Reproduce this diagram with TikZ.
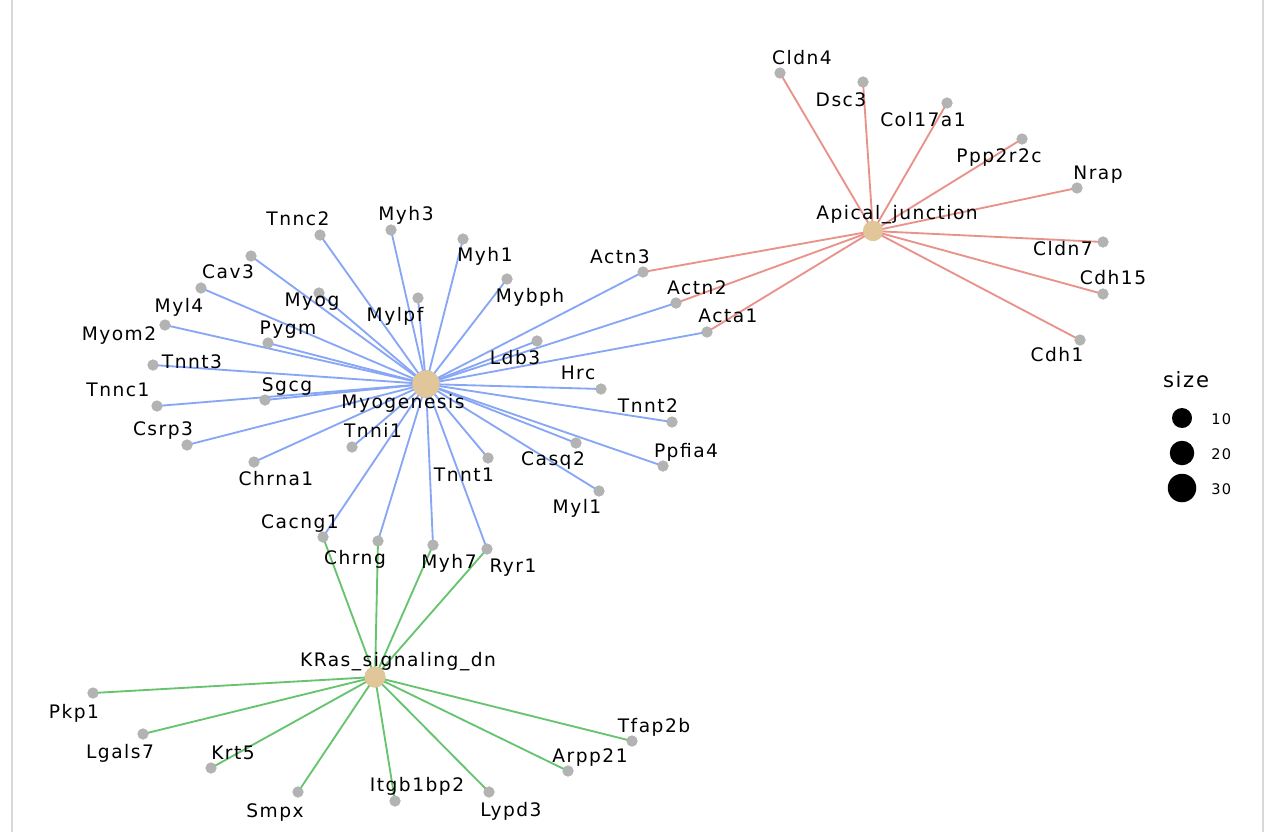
\documentclass[tikz,border=0pt]{standalone}
\usepackage{fontspec}
\setmainfont{DejaVu Sans}[LetterSpace=8]
\definecolor{genegray}{RGB}{179,179,179}
\definecolor{hubcol}{RGB}{224,198,153}
\definecolor{blueedge}{RGB}{135,166,245}
\definecolor{rededge}{RGB}{232,146,137}
\definecolor{greenedge}{RGB}{102,196,110}
\definecolor{framegray}{RGB}{217,217,217}
\tikzset{
  gene/.style={circle,fill=genegray,draw=none,minimum size=0.22cm,inner sep=0pt},
  hub/.style={circle,fill=hubcol,draw=none,inner sep=0pt},
  lbl/.style={inner sep=0pt,text height=0.73em,text depth=0pt,anchor=center,font=\fontsize{10.6}{12}\selectfont},
  eb/.style={draw=blueedge,line width=1.05pt},
  er/.style={draw=rededge,line width=1.05pt},
  eg/.style={draw=greenedge,line width=1.05pt},
  legdot/.style={circle,fill=black,draw=none,inner sep=0pt},
}
\begin{document}
\begin{tikzpicture}[x=0.02cm,y=-0.02cm]
\useasboundingbox (0,0) rectangle (1274,832);
\fill[white] (0,0) rectangle (1274,832);
\draw[framegray,line width=1.2pt] (12,0) -- (12,832);
\draw[framegray,line width=1.2pt] (1263,0) -- (1263,832);

% hubs
\node[hub,minimum size=0.55cm] (Myo) at (426,384) {};
\node[hub,minimum size=0.40cm] (Api) at (873,231) {};
\node[hub,minimum size=0.42cm] (KRas) at (375,677) {};

% genes
\foreach \n/\x/\y in {Tnnc2/320/235,Myh3/391/230,Myh1/463/239,Mybph/507/279,Cav3/251/256,Myl4/201/288,Myom2/165/325,Tnnt3/153/365,Tnnc1/157/406,Csrp3/187/445,Myog/319/293,Pygm/268/343,Sgcg/265/400,Mylpf/418/298,Tnni1/352/447,Chrna1/254/462,Cacng1/323/537,Chrng/378/541,Myh7/433/545,Ryr1/487/549,Tnnt1/488/458,Casq2/576/443,Myl1/599/491,Ppfia4/663/466,Tnnt2/672/422,Hrc/601/389,Ldb3/537/341,Acta1/707/332,Actn2/676/303,Actn3/643/272,Cldn4/780/73,Dsc3/863/82,Col17a1/947/103,Ppp2r2c/1022/139,Nrap/1077/188,Cldn7/1103/242,Cdh15/1103/294,Cdh1/1080/340,Pkp1/93/693,Lgals7/143/734,Krt5/211/768,Smpx/298/792,Itgb1bp2/395/801,Lypd3/489/792,Arpp21/568/771,Tfap2b/632/741}
  \node[gene] (\n) at (\x,\y) {};

% edges
\foreach \n in {Tnnc2,Myh3,Myh1,Mybph,Cav3,Myl4,Myom2,Tnnt3,Tnnc1,Csrp3,Myog,Pygm,Sgcg,Mylpf,Tnni1,Chrna1,Cacng1,Chrng,Myh7,Ryr1,Tnnt1,Casq2,Myl1,Ppfia4,Tnnt2,Hrc,Ldb3,Acta1,Actn2,Actn3}
  \draw[eb] (Myo.center) -- (\n.center);
\foreach \n in {Cldn4,Dsc3,Col17a1,Ppp2r2c,Nrap,Cldn7,Cdh15,Cdh1,Acta1,Actn2,Actn3}
  \draw[er] (Api.center) -- (\n.center);
\foreach \n in {Pkp1,Lgals7,Krt5,Smpx,Itgb1bp2,Lypd3,Arpp21,Tfap2b,Cacng1,Chrng,Myh7,Ryr1}
  \draw[eg] (KRas.center) -- (\n.center);

% redraw dots on top
\node[hub,minimum size=0.55cm] at (Myo) {};
\node[hub,minimum size=0.40cm] at (Api) {};
\node[hub,minimum size=0.42cm] at (KRas) {};
\foreach \n in {Tnnc2,Myh3,Myh1,Mybph,Cav3,Myl4,Myom2,Tnnt3,Tnnc1,Csrp3,Myog,Pygm,Sgcg,Mylpf,Tnni1,Chrna1,Cacng1,Chrng,Myh7,Ryr1,Tnnt1,Casq2,Myl1,Ppfia4,Tnnt2,Hrc,Ldb3,Acta1,Actn2,Actn3,Cldn4,Dsc3,Col17a1,Ppp2r2c,Nrap,Cldn7,Cdh15,Cdh1,Pkp1,Lgals7,Krt5,Smpx,Itgb1bp2,Lypd3,Arpp21,Tfap2b}
  \node[gene] at (\n) {};

% labels
\foreach \n/\x/\y in {Tnnc2/298/219,Myh3/406/214,Myh1/485/255,Mybph/530/296,Cav3/228/272,Myl4/179/306,Myom2/119/334,Tnnt3/192/362,Tnnc1/118/390,Csrp3/163/429,Myog/312/300,Pygm/288/328,Sgcg/287/385,Mylpf/395/315,Tnni1/373/431,Chrna1/276/479,Cacng1/300/522,Chrng/355/558,Myh7/449/562,Ryr1/513/566,Tnnt1/464/475,Casq2/553/459,Myl1/577/507,Ppfia4/686/451,Tnnt2/648/406,Hrc/578/373,Ldb3/515/358,Acta1/728/316,Actn2/697/288,Actn3/620/257,Cldn4/802/58,Dsc3/841/100,Col17a1/923/120,Ppp2r2c/999/156,Nrap/1098/173,Cldn7/1063/249,Cdh15/1113/278,Cdh1/1057/355,Pkp1/74/712,Lgals7/120/752,Krt5/233/753,Smpx/275/811,Itgb1bp2/417/785,Lypd3/511/810,Arpp21/590/756,Tfap2b/654/726}
  \node[lbl] (\n-l) at (\x,\y) {\n};
\node[lbl] (Myo-l) at (403,402) {Myogenesis};
\node[lbl] (Api-l) at (897,213) {Apical\_junction};
\node[lbl] (KRas-l) at (398,660) {KRas\_signaling\_dn};

% legend
\node[lbl,font=\fontsize{12}{14}\selectfont] (legt) at (1186,381) {size};
\node[legdot,minimum size=0.40cm] (l10) at (1182,418) {};
\node[legdot,minimum size=0.49cm] (l20) at (1182,453) {};
\node[legdot,minimum size=0.57cm] (l30) at (1182,488) {};
\node[lbl,font=\fontsize{8.3}{10}\selectfont,anchor=west] (t10) at (1211,418) {10};
\node[lbl,font=\fontsize{8.3}{10}\selectfont,anchor=west] (t20) at (1211,453) {20};
\node[lbl,font=\fontsize{8.3}{10}\selectfont,anchor=west] (t30) at (1211,488) {30};
\end{tikzpicture}
\end{document}
